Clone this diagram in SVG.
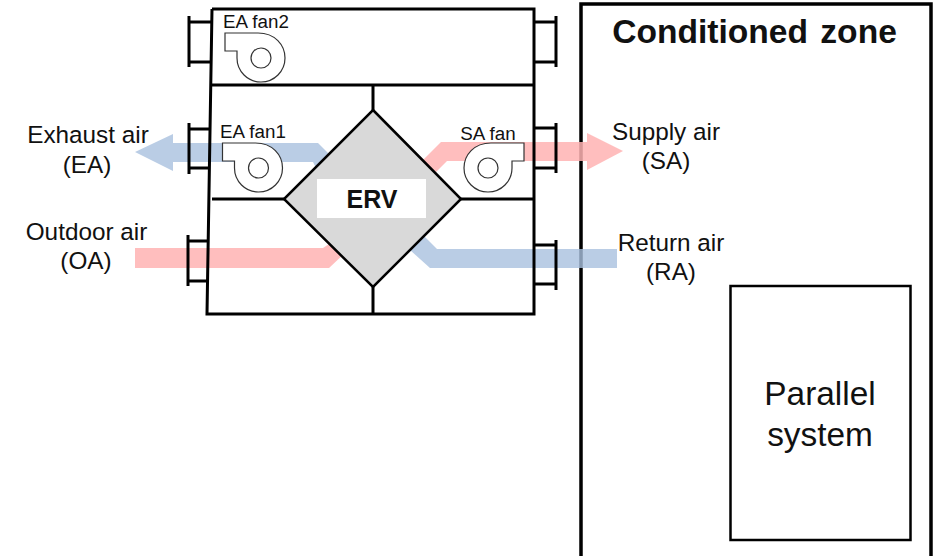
<svg xmlns="http://www.w3.org/2000/svg" width="936" height="556" viewBox="0 0 936 556">
<style>
text{font-family:"Liberation Sans",Arial,sans-serif;fill:#111;text-anchor:middle}
.l{font-size:24.300px}.f{font-size:18.800px}.p{font-size:33.400px}
.t{font-size:33.600px;font-weight:bold;word-spacing:3px}
.e{font-size:25px;font-weight:bold}
.w{fill:none;stroke:#000;stroke-width:3}
.r{fill:#ffb3b3;fill-opacity:.85}
.b{fill:#a9c0de;fill-opacity:.8}
.fan{fill:#fff;stroke:#333;stroke-width:1.200}
</style>
<defs>
<g id="fanshape"><path class="fan" d="M225,33 H258 C275,33 285,45 285,58 A24,24 0 0 1 261,82 A24,24 0 0 1 237,58 V51 H225 Z"/><circle class="fan" cx="261" cy="58" r="10"/></g>
</defs>
<g id="zone"><path class="w" style="stroke-width:3.500" d="M581,556 V4 H931 V556"/><text class="t" x="754.500" y="43">Conditioned zone</text></g>
<g id="parallel"><rect x="730.500" y="286" width="180" height="254" fill="#fff" stroke="#000" stroke-width="2.500"/><text class="p" x="820" y="405">Parallel</text><text class="p" x="820" y="446">system</text></g>
<g id="flows">
<path class="b" d="M135,152 L173,134 V143 H318 L335,160 L318,172 L313,162 H173 V171 Z"/>
<path class="r" d="M623,151 L587,133 V142 H441 L420,163 L436,172 L447,161 H587 V170 Z"/>
<path class="b" d="M617,249 H437 L420,232 L410,250 L430,268 H617 Z"/>
<path class="r" d="M135,248 H323 L335,240 L346,252 L329,268 H135 Z"/>
</g>
<g id="connectors">
<path class="w" d="M212,9 H534 V314 H207 L212,9 M212,85 H534 M212,199 H285 M461,199 H534 M373,85 V110 M373,287 V314"/>
<path class="w" d="M189,16 V67 M189,22 H212 M189,62 H212 M189,123 V174 M189,129 H210 M189,168 H210 M188,235 V286 M188,241 H208 M188,281 H208"/>
<path class="w" d="M556,16 V67 M556,22 H534 M556,62 H534 M556,123 V173 M556,128 H534 M556,168 H534 M556,240 V290 M556,245 H534 M556,284 H534"/>
</g>
<g id="erv"><path d="M373,110 L461,199 L373,287 L284,199 Z" fill="#d9d9d9" stroke="#000" stroke-width="2.500"/><rect x="317" y="179" width="109" height="39" fill="#fff"/><text class="e" x="372" y="208">ERV</text></g>
<g id="ea-fan2"><use href="#fanshape"/><text class="f" x="256" y="28">EA fan2</text></g>
<g id="ea-fan1"><use href="#fanshape" transform="translate(-2.500,110)"/><text class="f" x="253" y="138">EA fan1</text></g>
<g id="sa-fan"><use href="#fanshape" transform="translate(749,110) scale(-1,1)"/><text class="f" x="488" y="140">SA fan</text></g>
<g id="labels">
<text class="l" x="88" y="143">Exhaust air</text><text class="l" x="87" y="173">(EA)</text>
<text class="l" x="86.500" y="240">Outdoor air</text><text class="l" x="86" y="269">(OA)</text>
<text class="l" x="666" y="140">Supply air</text><text class="l" x="666" y="169">(SA)</text>
<text class="l" x="671" y="251">Return air</text><text class="l" x="671" y="280">(RA)</text>
</g>
</svg>
